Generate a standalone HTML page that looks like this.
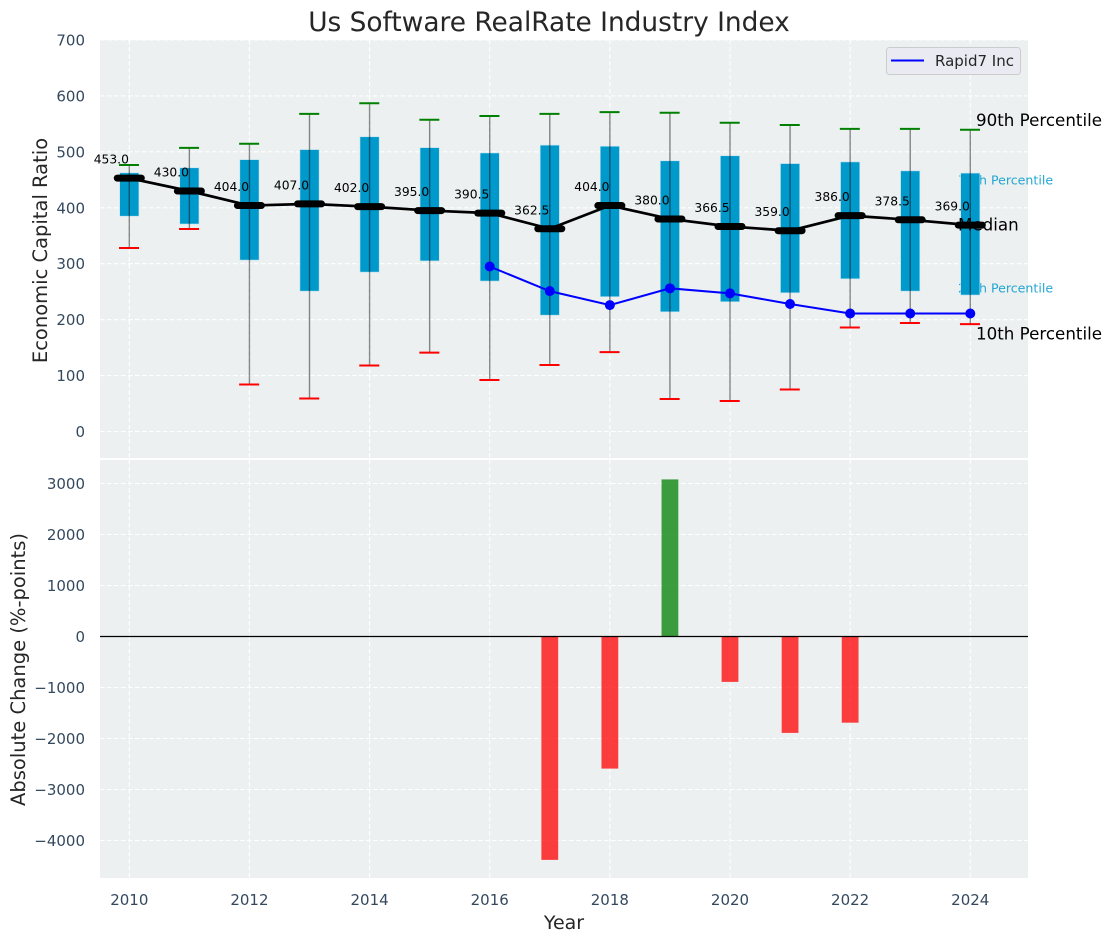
<!DOCTYPE html>
<html lang="en">
<head>
<meta charset="utf-8">
<title>Us Software RealRate Industry Index</title>
<style>
html,body{margin:0;padding:0;background:#fff}
svg{display:block}
text{font-family:"DejaVu Sans","Liberation Sans",sans-serif}
</style>
</head>
<body>
<svg id="chart" xmlns="http://www.w3.org/2000/svg" width="1111" height="942" viewBox="0 0 1111 942">
  <rect x="100" y="40" width="928" height="418" fill="#ecf0f1"/>
  <rect x="100" y="460" width="928" height="418" fill="#ecf0f1"/>
  <g id="grid"></g>
  <text x="958" y="184.5" font-size="12.6" fill="#0099cc" fill-opacity="0.85">75th Percentile</text>
  <text x="958" y="292.5" font-size="12.6" fill="#0099cc" fill-opacity="0.85">25th Percentile</text>
  <g id="marks"></g>
  <text x="958" y="230.5" font-size="16.7" fill="#000">Median</text>
  <g id="bars"></g>
  <g id="labels"></g>
  <text x="549" y="31" font-size="26.4" text-anchor="middle" fill="#262626">Us Software RealRate Industry Index</text>
  <text transform="translate(47,250.5) rotate(-90)" font-size="19.5" text-anchor="middle" fill="#262626">Economic Capital Ratio</text>
  <text transform="translate(25,669.5) rotate(-90)" font-size="19.5" text-anchor="middle" fill="#262626">Absolute Change (%-points)</text>
  <text x="564" y="929" font-size="19" text-anchor="middle" fill="#262626">Year</text>
  <text x="976" y="126" font-size="16.7" fill="#000">90th Percentile</text>
  <text x="976" y="339.5" font-size="16.7" fill="#000">10th Percentile</text>
  <g>
    <rect x="886.5" y="47.5" width="134" height="27" rx="3" fill="#eaeaf2" stroke="#cccccc"/>
    <line x1="891" x2="924" y1="60.5" y2="60.5" stroke="#0000ff" stroke-width="2"/>
    <text x="935" y="66" font-size="15" fill="#262626">Rapid7 Inc</text>
  </g>
</svg>
<script>
const years = [2010,2011,2012,2013,2014,2015,2016,2017,2018,2019,2020,2021,2022,2023,2024];
const p90 = [476.5,507,514.5,568,587,557.5,564,568,571,570,552,548,541,541,539.5];
const p75 = [462.5,471.5,486,504,527,507.5,498,512,510,484,493,479,482,466,462];
const medians = [453,430,404,407,402,395,390.5,362.5,404,380,366.5,359,386,378.5,369];
const p25 = [385,371,306.5,251,285,305,269,208,241,214,232,248,273,251,244];
const p10 = [328,362,84,59,118,141,92,119,142,58,54.5,75,186,194,192];
const rapid7Years = [2016,2017,2018,2019,2020,2021,2022,2023,2024];
const rapid7Values = [295,251,226,256,247,228,211,211,211];
const changeYears = [2017,2018,2019,2020,2021,2022];
const changeValues = [-4380,-2590,3080,-890,-1890,-1690];
const xTicks = [2010,2012,2014,2016,2018,2020,2022,2024];
const upperTicks = [0,100,200,300,400,500,600,700];
const lowerTicks = [3000,2000,1000,0,-1000,-2000,-3000,-4000];

const NS = 'http://www.w3.org/2000/svg';
const xScale = v => 129.3 + (v - 2010) * 60.07;
const yUpper = v => 431.5 - v * 0.5593;
const yLower = v => 636.5 - v * 0.051;

function mk(parent, tag, attrs, text) {
  const el = document.createElementNS(NS, tag);
  for (const k in attrs) el.setAttribute(k, attrs[k]);
  if (text !== undefined) el.textContent = text;
  parent.appendChild(el);
  return el;
}

const grid = document.getElementById('grid');
const marks = document.getElementById('marks');
const bars = document.getElementById('bars');
const labels = document.getElementById('labels');
const gridStyle = {stroke:'#ffffff','stroke-width':1.1,'stroke-dasharray':'4.5 2.5',fill:'none'};

xTicks.forEach(t => {
  const x = xScale(t);
  [[40,458],[460,878]].forEach(r => {
    const l = mk(grid,'line',Object.assign({x1:x,x2:x,y1:r[0],y2:r[1]},gridStyle));
    
    
  });
  const tl = mk(labels,'text',{x:x,y:905,'font-size':15,'text-anchor':'middle',fill:'#34495e'},String(t));
  
  
});

upperTicks.forEach(t => {
  const y = yUpper(t);
  const l = mk(grid,'line',Object.assign({x1:100,x2:1028,y1:y,y2:y},gridStyle));
  
  
  const tl = mk(labels,'text',{x:85,y:y+5.5,'font-size':15,'text-anchor':'end',fill:'#34495e'},String(t));
  
  
});

lowerTicks.forEach(t => {
  const y = yLower(t);
  const l = mk(grid,'line',Object.assign({x1:100,x2:1028,y1:y,y2:y},gridStyle));
  
  
  const txt = t < 0 ? '\u2212' + Math.abs(t) : String(t);
  const tl = mk(labels,'text',{x:85,y:y+5.5,'font-size':15,'text-anchor':'end',fill:'#34495e'},txt);
  
  
});

years.forEach((yr,i) => {
  const x = xScale(yr);
  const top = yUpper(p75[i]), bot = yUpper(p25[i]);
  const box = mk(marks,'rect',{x:x-9.6,y:top,width:19.2,height:bot-top,fill:'#0099cc',stroke:'#bfe3ef','stroke-width':0.6});
  
  
  const w = mk(marks,'line',{x1:x,x2:x,y1:yUpper(p90[i]),y2:yUpper(p10[i]),stroke:'#000','stroke-opacity':0.45,'stroke-width':1.4});
  
  
  const c1 = mk(marks,'line',{x1:x-10.3,x2:x+9.7,y1:yUpper(p90[i]),y2:yUpper(p90[i]),stroke:'#008000','stroke-width':2});
  
  
  const c2 = mk(marks,'line',{x1:x-10.3,x2:x+9.7,y1:yUpper(p10[i]),y2:yUpper(p10[i]),stroke:'#ff0000','stroke-width':2});
  
  
});

const medianPath = mk(marks,'polyline',{points:years.map((yr,i)=>xScale(yr)+','+yUpper(medians[i])).join(' '),fill:'none',stroke:'#000','stroke-width':2.7});



years.forEach((yr,i) => {
  const x = xScale(yr), y = yUpper(medians[i]);
  const m = mk(marks,'line',{x1:x-12,x2:x+12,y1:y,y2:y,stroke:'#000','stroke-width':7,'stroke-linecap':'round'});
  
  
  const t = mk(marks,'text',{x:x-18,y:y-14.5,'font-size':12.3,'text-anchor':'middle',fill:'#000'},medians[i].toFixed(1));
  
  
});

const rapidLine = mk(marks,'polyline',{points:rapid7Years.map((yr,i)=>xScale(yr)+','+yUpper(rapid7Values[i])).join(' '),fill:'none',stroke:'#0000ff','stroke-width':2});



rapid7Years.forEach((yr,i) => {
  const p = mk(marks,'circle',{cx:xScale(yr),cy:yUpper(rapid7Values[i]),r:5,fill:'#0000ff'});
  
  
});

changeYears.forEach((yr,i) => {
  const v = changeValues[i];
  const y0 = yLower(0), y1 = yLower(v);
  const b = mk(bars,'rect',{x:xScale(yr)-8.4,y:Math.min(y0,y1),width:16.8,height:Math.abs(y1-y0),fill:v>=0?'#008000':'#ff0000','fill-opacity':0.75});
  
  
});

const zero = mk(bars,'line',{x1:100,x2:1028,y1:yLower(0),y2:yLower(0),stroke:'#000','stroke-width':1.2});


</script>
</body>
</html>
